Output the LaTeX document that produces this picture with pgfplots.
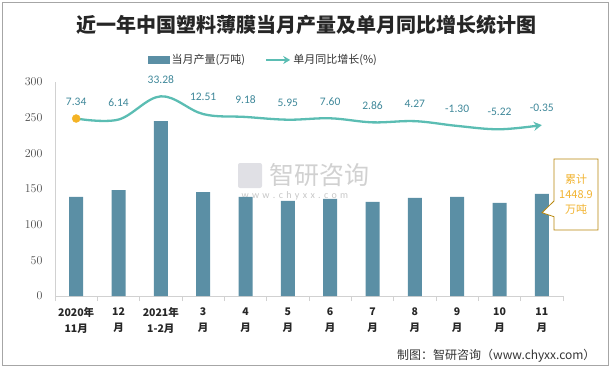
\documentclass[border=0pt]{standalone}
\usepackage{pgfplots}
\pgfplotsset{compat=1.18}
\usepackage{fontspec}
\setmainfont{Carlito}
\newfontfamily\cjk{Noto Sans CJK SC}
\usetikzlibrary{arrows.meta}
\definecolor{barc}{HTML}{5B8FA5}
\definecolor{linec}{HTML}{5BBDB3}
\definecolor{labc}{HTML}{3E8799}
\definecolor{dotc}{HTML}{F4B325}
\definecolor{boxb}{HTML}{B8860B}
\definecolor{boxt}{HTML}{F2B431}
\begin{document}
\begin{tikzpicture}[x=1pt,y=1pt]
\path[use as bounding box] (0,0) rectangle (615,368);
\draw[black!35, line width=0.8pt] (2.5,2.5) rectangle (608.5,365.5);
\node[font=\cjk\bfseries\fontsize{20}{24}\selectfont, text=black!85] at (306,343) {近一年中国塑料薄膜当月产量及单月同比增长统计图};
% watermark
\node[font=\cjk\fontsize{25}{28}\selectfont, text=black!18, anchor=west] at (266,193) {智研咨询};
\node[font=\fontsize{10}{12}\selectfont, text=black!22, anchor=west] at (238,172) {w\,\,w\,\,w\,\,.\,\,c\,\,h\,\,y\,\,x\,\,x\,\,.\,\,c\,\,o\,\,m};
\fill[blue!15!black!12, rounded corners=2pt] (238,180) rectangle (262,205);

\begin{axis}[
  at={(55pt,72pt)}, anchor=south west, scale only axis,
  width=508pt, height=214pt,
  xmin=-0.5, xmax=11.5, ymin=0, ymax=300,
  ytick={0,50,...,300},
  xtick={0,...,11},
  xticklabels={{2020年\\11月},{12\\月},{2021年\\1-2月},{3\\月},{4\\月},{5\\月},{6\\月},{7\\月},{8\\月},{9\\月},{10\\月},{11\\月}},
  xticklabel style={align=center, font=\cjk\bfseries\fontsize{10.5}{16}\selectfont, text=black!85, yshift=-8pt},
  yticklabel style={font=\fontsize{11.5}{12}\selectfont, text=black!70, xshift=-9pt},
  axis x line*=bottom, axis y line*=left,
  axis line style={draw=black!18, line width=0.8pt, -},
  major tick length=0pt,
  minor xtick={-0.5,0.5,...,11.5},
  minor tick length=5pt, tick align=outside,
  minor tick style={draw=black!18, line width=0.8pt},
  ybar, bar width=14pt,
  legend style={at={(0.41,1.103)}, anchor=center, draw=none, fill=none,
    legend columns=2, font=\cjk\fontsize{11}{13}\selectfont, text=black!80,
    /tikz/every even column/.append style={column sep=18pt}},
]
\addplot[fill=barc, draw=none,
  legend image code/.code={\fill[barc] (0pt,-4pt) rectangle (22pt,4pt);}]
  coordinates {(0,138.8) (1,148.6) (2,245.3) (3,145.8) (4,138.8) (5,133.2)
               (6,136.0) (7,131.8) (8,137.4) (9,138.8) (10,130.4) (11,143.0)};
\addlegendentry{当月产量(万吨)}
\addlegendimage{legend image code/.code={\draw[linec, line width=2.3pt, -{Stealth[length=7pt, width=8pt]}] (0pt,0pt) -- (24pt,0pt);}}
\addlegendentry{单月同比增长(\%)}
\end{axis}

\begin{axis}[
  at={(55pt,72pt)}, anchor=south west, scale only axis,
  width=508pt, height=214pt,
  xmin=-0.5, xmax=11.5, ymin=-200, ymax=50,
  hide axis, clip=false,
]
\addplot[linec, line width=2.3pt, smooth, tension=0.6,
  -{Stealth[length=8pt,width=9pt]},
  point meta=explicit symbolic, nodes near coords,
  every node near coord/.style={font=\fontsize{11.5}{12}\selectfont, text=labc, anchor=center, yshift=17pt}]
  coordinates {(0,7.34)[7.34] (1,6.14)[6.14] (2,33.28)[33.28] (3,12.51)[12.51]
               (4,9.18)[9.18] (5,5.95)[5.95] (6,7.60)[7.60] (7,2.86)[2.86]
               (8,4.27)[4.27] (9,-1.30)[-1.30] (10,-5.22)[-5.22] (11,-0.35)[-0.35]};
\addplot[only marks, mark=*, mark size=4pt, color=dotc] coordinates {(0,7.34)};
\end{axis}

\draw[boxb, fill=white, line width=0.8pt] (554,209) -- (598,209) -- (598,138) -- (554,138) -- (554,151.3) -- (542,155.3) -- (554,167) -- cycle;
\node[align=center, font=\cjk\fontsize{11}{15}\selectfont, text=boxt] at (576,173.5) {累计\\1448.9\\万吨};
\node[anchor=east, font=\cjk\fontsize{12}{13}\selectfont, text=black!80] at (599,12) {制图：智研咨询（www.chyxx.com）};
\end{tikzpicture}
\end{document}
